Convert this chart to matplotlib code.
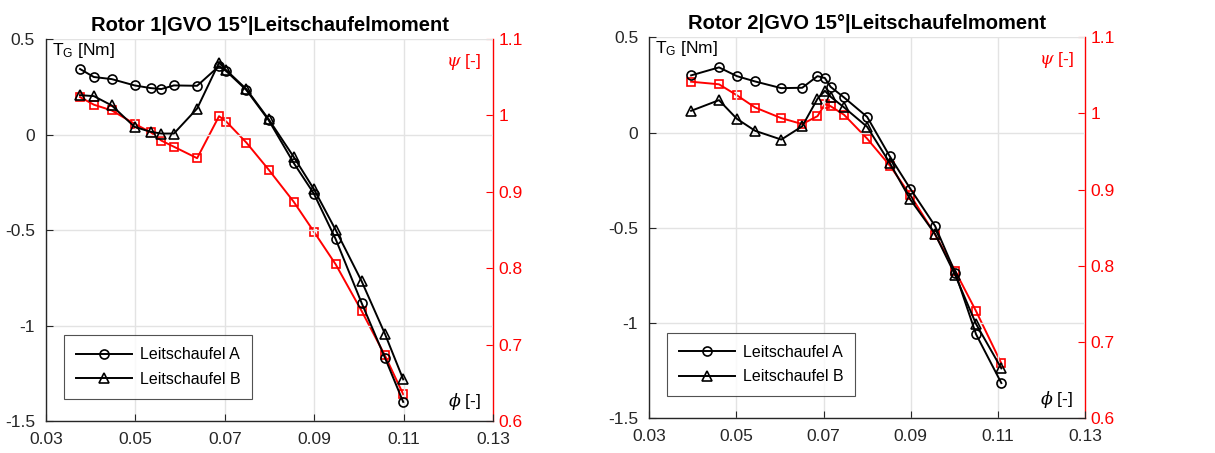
import matplotlib
matplotlib.use("Agg")
import matplotlib.pyplot as plt

plt.rcParams["font.family"] = ["Liberation Sans", "DejaVu Sans"]
plt.rcParams["mathtext.fontset"] = "dejavuserif"

# ---- Rotor 1 ----
r1_phi_a = [0.0376, 0.0407, 0.0447, 0.0498, 0.0534, 0.0558, 0.0586, 0.0638, 0.0687,
            0.0703, 0.0748, 0.0798, 0.0854, 0.0899, 0.0948, 0.1006, 0.1058, 0.1099]
r1_tg_a = [0.343, 0.301, 0.290, 0.257, 0.243, 0.238, 0.257, 0.255, 0.358,
           0.332, 0.233, 0.075, -0.149, -0.309, -0.548, -0.882, -1.168, -1.400]
r1_phi_b = r1_phi_a
r1_tg_b = [0.206, 0.201, 0.152, 0.040, 0.014, 0.005, 0.005, 0.136, 0.376,
           0.337, 0.238, 0.080, -0.117, -0.285, -0.500, -0.768, -1.043, -1.282]
r1_phi_psi = r1_phi_a
r1_psi = [1.024, 1.014, 1.0065, 0.989, 0.978, 0.967, 0.959, 0.944, 0.999,
          0.992, 0.9645, 0.929, 0.887, 0.848, 0.805, 0.744, 0.686, 0.635]

# ---- Rotor 2 ----
r2_phi_a = [0.0396, 0.0460, 0.0501, 0.0543, 0.0603, 0.0651, 0.0686, 0.0703, 0.0716,
            0.0747, 0.0800, 0.0852, 0.0899, 0.0956, 0.1002, 0.1050, 0.1108]
r2_tg_a = [0.300, 0.342, 0.296, 0.268, 0.233, 0.235, 0.296, 0.286, 0.240,
           0.184, 0.082, -0.125, -0.295, -0.491, -0.735, -1.059, -1.315]
r2_phi_b = r2_phi_a
r2_tg_b = [0.114, 0.170, 0.072, 0.009, -0.037, 0.033, 0.177, 0.219, 0.188,
           0.132, 0.030, -0.160, -0.351, -0.533, -0.748, -1.005, -1.238]
r2_phi_psi = r2_phi_a
r2_psi = [1.0417, 1.0383, 1.0239, 1.0078, 0.9939, 0.9861, 0.9965, 1.0122, 1.0096,
          0.9983, 0.967, 0.9317, 0.893, 0.841, 0.7934, 0.7406, 0.672]

titles = ["Rotor 1|GVO 15°|Leitschaufelmoment", "Rotor 2|GVO 15°|Leitschaufelmoment"]
legend_labels = ["Leitschaufel A", "Leitschaufel B"]
x_ticks = [0.03, 0.05, 0.07, 0.09, 0.11, 0.13]
x_ticklabels = ["0.03", "0.05", "0.07", "0.09", "0.11", "0.13"]
y_ticks = [-1.5, -1, -0.5, 0, 0.5]
y_ticklabels = ["-1.5", "-1", "-0.5", "0", "0.5"]
psi_ticks = [0.6, 0.7, 0.8, 0.9, 1.0, 1.1]
psi_ticklabels = ["0.6", "0.7", "0.8", "0.9", "1", "1.1"]

DARK = "#262626"
RED = "#ff0000"
GRID = "#e3e3e3"

fig = plt.figure(figsize=(12.15, 4.53), dpi=100)
positions = [[0.0379, 0.0706, 0.3679, 0.8433], [0.5344, 0.0766, 0.3586, 0.8411]]
datasets = [
    (r1_phi_a, r1_tg_a, r1_phi_b, r1_tg_b, r1_phi_psi, r1_psi),
    (r2_phi_a, r2_tg_a, r2_phi_b, r2_tg_b, r2_phi_psi, r2_psi),
]

for pos, title, (pa, ta, pb, tb, pp, ps) in zip(positions, titles, datasets):
    ax = fig.add_axes(pos)
    ax2 = ax.twinx()
    ax.set_zorder(ax2.get_zorder() + 1)
    ax.patch.set_visible(False)

    la, = ax.plot(pa, ta, color="black", lw=1.4, marker="o", ms=6.5,
                  mfc="none", mec="black", mew=1.2, label=legend_labels[0])
    lb, = ax.plot(pb, tb, color="black", lw=1.4, marker="^", ms=7.5,
                  mfc="none", mec="black", mew=1.2, label=legend_labels[1])
    ax2.plot(pp, ps, color=RED, lw=1.4, marker="s", ms=5.5,
             mfc="none", mec=RED, mew=1.2)

    ax.set_xlim(0.03, 0.13)
    ax.set_ylim(-1.5, 0.5)
    ax2.set_ylim(0.6, 1.1)
    ax.set_xticks(x_ticks)
    ax.set_xticklabels(x_ticklabels)
    ax.set_yticks(y_ticks)
    ax.set_yticklabels(y_ticklabels)
    ax2.set_yticks(psi_ticks)
    ax2.set_yticklabels(psi_ticklabels)

    ax.grid(True, color=GRID, lw=1.0)
    ax.set_axisbelow(True)

    for a in (ax, ax2):
        a.spines["top"].set_visible(False)
    ax.spines["right"].set_visible(False)
    ax2.spines["left"].set_visible(False)
    ax2.spines["bottom"].set_visible(False)
    ax.spines["left"].set_color(DARK)
    ax.spines["bottom"].set_color(DARK)
    ax2.spines["right"].set_color(RED)
    for s in ("left", "bottom"):
        ax.spines[s].set_linewidth(1.0)
    ax2.spines["right"].set_linewidth(1.0)

    ax.tick_params(axis="both", direction="in", length=5, width=0.8,
                   colors=DARK, labelsize=12.5, pad=8)
    ax.tick_params(axis="y", pad=8)
    ax2.tick_params(axis="y", direction="in", length=5, width=0.8,
                    colors=RED, labelsize=12.5, pad=4)

    ax.set_title(title, fontsize=14.5, fontweight="bold", color="black", pad=6)

    ax.text(0.013, 0.995, r"$\mathregular{T_G}$ [Nm]", transform=ax.transAxes,
            ha="left", va="top", fontsize=12.5, color="black")
    ax.text(0.973, 0.94, r"$\psi$ [-]", transform=ax.transAxes,
            ha="right", va="center", fontsize=12.5, color=RED)
    ax.text(0.973, 0.05, r"$\phi$ [-]", transform=ax.transAxes,
            ha="right", va="center", fontsize=12.5, color="black")

    leg = ax.legend(handles=[la, lb], loc="lower left", bbox_to_anchor=(0.04, 0.058),
                    fontsize=11.5, frameon=True, fancybox=False, handlelength=3.5,
                    handletextpad=0.5, borderpad=0.75, labelspacing=0.6,
                    borderaxespad=0)
    leg.get_frame().set_edgecolor(DARK)
    leg.get_frame().set_linewidth(0.8)

fig.savefig("out.png", dpi=100)
